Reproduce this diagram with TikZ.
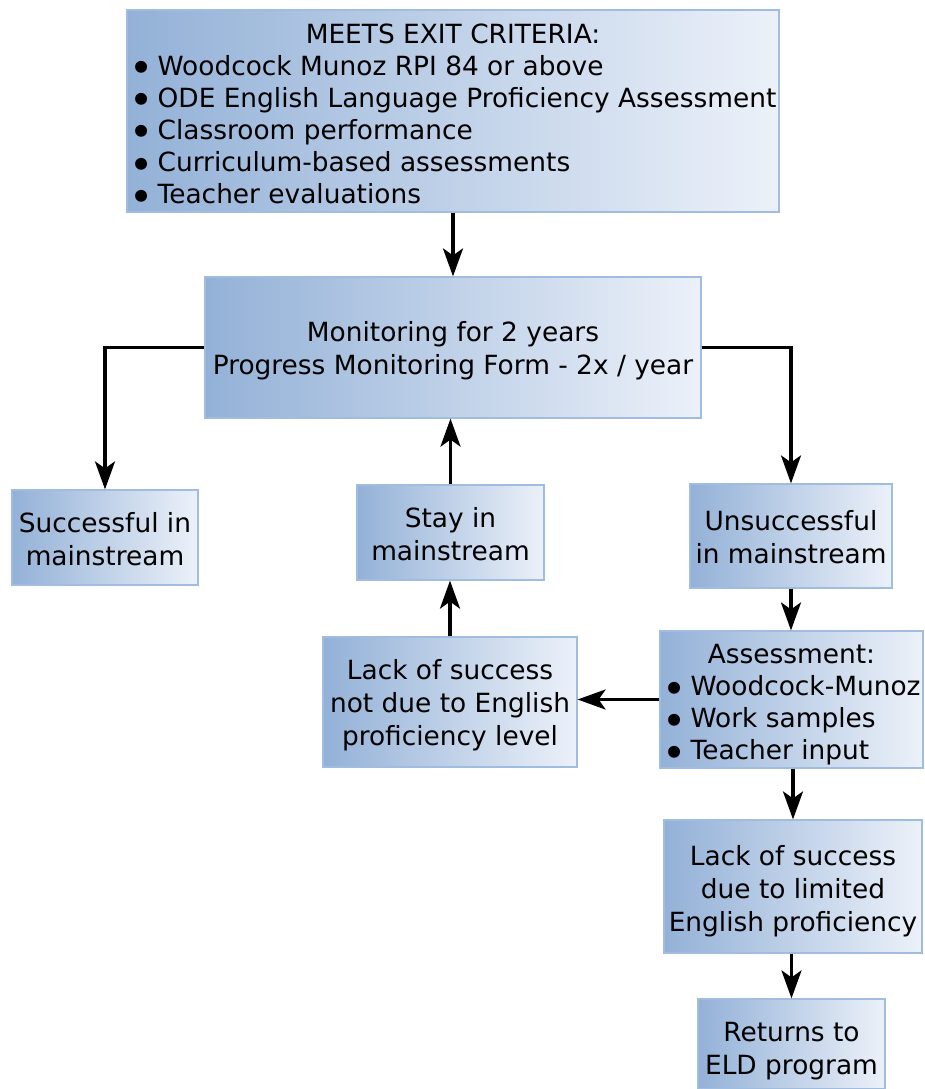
\documentclass[tikz,border=0pt]{standalone}
\usepackage{fontspec}
\setmainfont{DejaVu Sans}
\usetikzlibrary{arrows.meta}

\definecolor{boxleft}{RGB}{147,177,215}
\definecolor{boxright}{RGB}{236,241,249}
\definecolor{boxline}{RGB}{160,188,222}
\newcommand{\bul}{\smash{\raisebox{-0.28em}{\scalebox{1.55}{\textbullet}}}\hspace{0.15em}}
\renewcommand{\arraystretch}{0.98}

\begin{document}
\begin{tikzpicture}[
  x=0.5pt, y=-0.5pt,
  font=\fontsize{13.2}{16.4}\selectfont,
  bnode/.style={rectangle, draw=boxline, line width=0.6pt, left color=boxleft, right color=boxright, align=center, inner sep=0pt, text=black},
  arw/.style={-{Stealth[length=14pt, width=10pt, inset=3.5pt]}, line width=1.6pt}
  ]
\useasboundingbox (0,0) rectangle (925,1089);

\node [bnode, minimum width=326pt, minimum height=101pt] (crit) at (453,111)
  {\raisebox{-6pt}[0pt][0pt]{\begin{tabular}{@{}l@{}}\multicolumn{1}{@{}c@{}}{MEETS EXIT CRITERIA:}\\
   \bul Woodcock Munoz RPI 84 or above\\
   \bul ODE English Language Proficiency Assessment\\
   \bul Classroom performance\\
   \bul Curriculum-based assessments\\
   \bul Teacher evaluations\end{tabular}}};
\node [bnode, text height=29.4pt, minimum width=248pt, minimum height=70.5pt] (mon) at (453,347.5)
  {Monitoring for 2 years\\Progress Monitoring Form - 2x / year};
\node [bnode, text height=27.9pt, minimum width=93pt, minimum height=47.5pt] (succ) at (105,537.5)
  {Successful in\\mainstream};
\node [bnode, text height=28.4pt, minimum width=93.5pt, minimum height=47.5pt] (stay) at (450.5,532.5)
  {Stay in\\mainstream};
\node [bnode, text height=27.9pt, minimum width=101pt, minimum height=52pt] (unsucc) at (791,536)
  {Unsuccessful\\in mainstream};
\node [bnode, text height=46.3pt, minimum width=127pt, minimum height=65pt] (notdue) at (450,702)
  {Lack of success\\not due to English\\proficiency level};
\node [bnode, minimum width=131.5pt, minimum height=68.5pt] (assess) at (791.5,699.5)
  {\raisebox{-5.9pt}[0pt][0pt]{\begin{tabular}{@{}l@{}}\multicolumn{1}{@{}c@{}}{Assessment:}\\
   \bul Woodcock-Munoz\\
   \bul Work samples\\
   \bul Teacher input\end{tabular}}};
\node [bnode, text height=47.3pt, minimum width=129pt, minimum height=66.5pt] (due) at (793,886.5)
  {Lack of success\\due to limited\\English proficiency};
\node [bnode, text height=32.9pt, minimum width=93.5pt, minimum height=45pt] (eld) at (791.5,1044)
  {Returns to\\ELD program};

\draw [arw] (crit) -- (mon);
\draw [arw] (mon.west) -| (succ.north);
\draw [arw] (mon.east) -| (unsucc.north);
\draw [arw] (stay.north) -- (stay.north |- mon.south);
\draw [arw] (notdue.north) -- (notdue.north |- stay.south);
\draw [arw] (unsucc.south) -- (unsucc.south |- assess.north);
\draw [arw] (assess.west) -- (assess.west -| notdue.east);
\draw [arw] (assess.south -| due.north) -- (due.north);
\draw [arw] (due.south -| eld.north) -- (eld.north);

\end{tikzpicture}
\end{document}
